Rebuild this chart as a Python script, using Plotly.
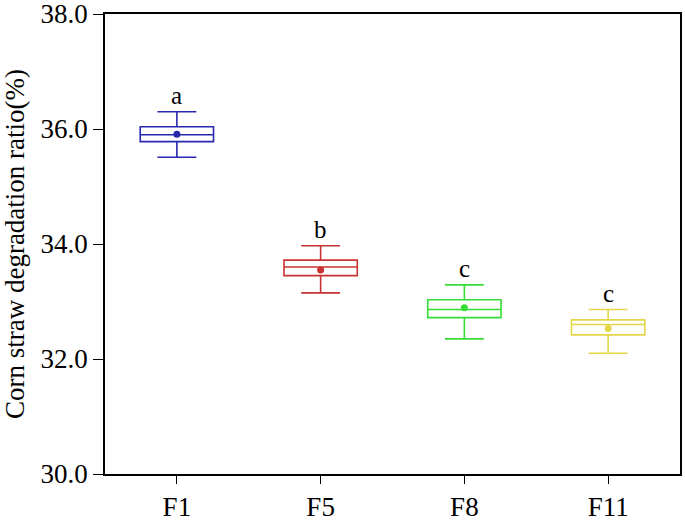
import plotly.graph_objects as go

categories = ["F1", "F5", "F8", "F11"]
upper_whisker = [36.30, 33.97, 33.29, 32.86]
q3 = [36.04, 33.72, 33.03, 32.68]
median = [35.90, 33.60, 32.86, 32.60]
q1 = [35.78, 33.45, 32.72, 32.42]
lower_whisker = [35.51, 33.15, 32.35, 32.10]
means = [35.91, 33.55, 32.89, 32.53]
letters = ["a", "b", "c", "c"]
colors = ["rgb(40,40,175)", "rgb(200,50,50)", "rgb(55,220,55)", "rgb(228,214,70)"]

fig = go.Figure()
for i, c in enumerate(categories):
    fig.add_trace(go.Box(
        x=[c], q1=[q1[i]], median=[median[i]], q3=[q3[i]],
        lowerfence=[lower_whisker[i]], upperfence=[upper_whisker[i]],
        line=dict(color=colors[i], width=1.6),
        fillcolor="rgba(255,255,255,0)",
        width=0.51, whiskerwidth=0.53,
        boxpoints=False, showlegend=False,
    ))
    fig.add_trace(go.Scatter(
        x=[c], y=[means[i]], mode="markers",
        marker=dict(color=colors[i], size=7),
        showlegend=False,
    ))
    fig.add_annotation(
        x=c, y=upper_whisker[i], text=letters[i], showarrow=False,
        yanchor="bottom", yshift=1,
        font=dict(family="Liberation Serif", size=25, color="black"),
    )

fig.update_layout(
    width=685, height=522,
    margin=dict(l=105, r=5, t=14, b=48, autoexpand=False),
    paper_bgcolor="white", plot_bgcolor="white",
    font=dict(family="Liberation Serif", size=27, color="black"),
)
fig.update_xaxes(
    range=[-0.5, 3.5], showline=True, linecolor="black", linewidth=1.6,
    mirror=True, ticks="outside", ticklen=8, tickwidth=1.4, tickcolor="black",
    showgrid=False, tickfont=dict(size=27), automargin=False,
    ticklabeloverflow="allow",
)
fig.update_yaxes(
    range=[30, 38], dtick=2, tickformat=".1f",
    showline=True, linecolor="black", linewidth=1.6,
    mirror=True, ticks="outside", ticklen=10, tickwidth=1.4, tickcolor="black",
    showgrid=False, zeroline=False, tickfont=dict(size=27), automargin=False,
    ticklabeloverflow="allow",
    title=dict(text="Corn straw degradation ratio(%)", font=dict(size=27), standoff=8),
)

fig.write_html("out.html", config={"displayModeBar": False},
               post_script="document.body.style.margin='0px';")
